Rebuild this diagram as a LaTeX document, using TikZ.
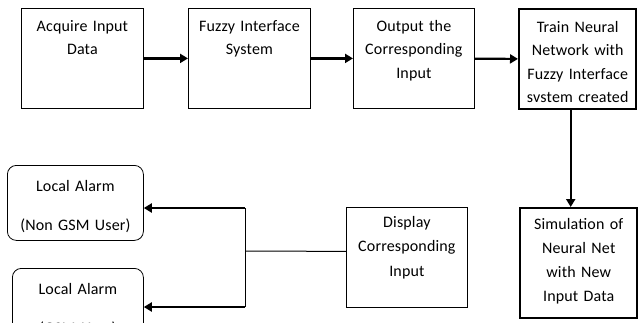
\documentclass[tikz,border=0pt]{standalone}
\usepackage{fontspec}
\setmainfont{Carlito}[LetterSpace=1]
\usetikzlibrary{arrows.meta}
\tikzset{
  blk/.style={draw, line width=0.8pt, anchor=north west, inner sep=0pt, align=center,
    font=\fontsize{16}{23.4}\selectfont},
  thk/.style={blk, line width=2.4pt},
  alm/.style={blk, rounded corners=9pt},
  arr/.style={line width=2.2pt, -{Triangle[length=8pt,width=9pt]}},
  lnk/.style={line width=1pt},
}

\begin{document}
\begin{tikzpicture}[x=1pt, y=-1pt]
  \useasboundingbox (0,0) rectangle (642,322);
  % top row
  \node[blk, minimum width=122pt, text width=118pt, text height=23pt, text depth=77pt] (acq) at (21,8) {Acquire Input\\Data};
  \node[blk, minimum width=122pt, text width=118pt, text height=23pt, text depth=77pt] (fis) at (188,8) {Fuzzy Interface\\System};
  \node[blk, minimum width=121pt, text width=117pt, text height=23pt, text depth=77pt] (out) at (353,8) {Output the\\Corresponding\\Input};
  \node[thk, minimum width=117pt, text width=115pt, text height=23pt, text depth=77pt] (tnn) at (518,8) {Train Neural\\Network with\\Fuzzy Interface\\svstem created};
  % bottom row
  \node[thk, minimum width=117pt, text width=115pt, text height=21pt, text depth=89pt,
    font=\fontsize{16}{24}\selectfont] (sim) at (519,207) {Simulation of\\Neural Net\\with New\\Input Data};
  \node[blk, minimum width=121pt, text width=117pt, text height=20pt, text depth=80pt,
    font=\fontsize{16}{24.5}\selectfont] (dsp) at (346,207) {Display\\Corresponding\\Input};
  \node[alm, minimum width=136pt, text width=130pt, text height=26pt, text depth=49pt] (al1) at (7,165) {Local Alarm\\[15.2pt](Non GSM User)};
  \node[alm, minimum width=131pt, text width=125pt, text height=26pt, text depth=49pt] (al2) at (12,268) {Local Alarm\\[15.2pt](GSM User)};
  \coordinate (jn) at (245,251);
  \coordinate (jt) at (245,208);
  \coordinate (jb) at (245,307);
  % connectors
  \draw[arr] (acq) -- (fis);
  \draw[arr] (fis) -- (out);
  \draw[arr] (out) -- (tnn);
  \draw[arr] ([xshift=-7pt]tnn.south) -- ([xshift=-7pt]tnn.south |- sim.north);
  \draw[lnk] ([yshift=6pt]dsp.west) -- (jn);
  \draw[lnk] (jt) -- (jb);
  \draw[arr] (jt) -- (jt -| al1.east);
  \draw[arr] (jb) -- (jb -| al2.east);
\end{tikzpicture}
\end{document}
